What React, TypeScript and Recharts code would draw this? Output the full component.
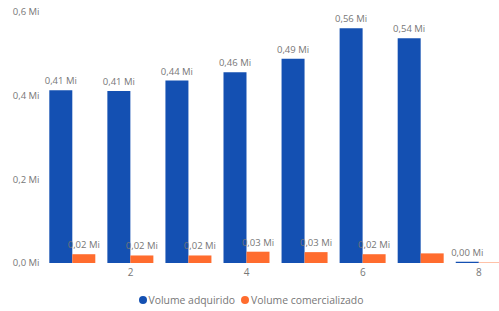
import { Bar, BarChart, LabelList, Legend, XAxis, YAxis } from 'recharts';

const categorias = [1, 2, 3, 4, 5, 6, 7, 8];
const volumeAdquirido = [0.413, 0.411, 0.436, 0.456, 0.488, 0.561, 0.537, 0.003];
const volumeComercializado = [0.021, 0.018, 0.018, 0.027, 0.026, 0.021, 0.023, 0.001];
// Power BI hides labels that collide; these are the ones left visible
const comercializadoLabelVisivel = [true, true, true, true, true, true, false, false];
const xTicks = [2, 4, 6, 8];
const yTicks = [0, 0.2, 0.4, 0.6];

const series = [
    { key: 'adquirido', name: 'Volume adquirido', fill: '#1450B2' },
    { key: 'comercializado', name: 'Volume comercializado', fill: '#FF6C2E' },
];

const data = categorias.map((c, i) => ({
    mes: c,
    adquirido: volumeAdquirido[i],
    comercializado: volumeComercializado[i],
}));

const FONT = '"Open Sans", "Noto Sans", sans-serif';
const TEXT = '#777777';

const fmtMi = (v: number, digits: number) => `${v.toFixed(digits).replace('.', ',')} Mi`;

const LegendContent = () => (
    <div
        style={{
            height: 28,
            display: 'flex',
            justifyContent: 'center',
            alignItems: 'center',
            fontFamily: FONT,
            fontSize: 10.4,
            color: TEXT,
            paddingTop: 6,
            boxSizing: 'border-box',
        }}
    >
        {series.map((s) => (
            <span key={s.key} style={{ display: 'flex', alignItems: 'center', marginRight: 6 }}>
                <span
                    style={{
                        width: 8,
                        height: 8,
                        borderRadius: '50%',
                        background: s.fill,
                        marginRight: 2,
                        display: 'inline-block',
                    }}
                />
                {s.name}
            </span>
        ))}
    </div>
);

const makeLabel = (visible?: boolean[]) => (props: any) => {
    const { x, y, width, value, index } = props;
    if (visible && !visible[index]) return null;
    return (
        <text
            x={Number(x) + Number(width) / 2}
            y={Number(y) - 6}
            textAnchor="middle"
            fill={TEXT}
            fontSize={9.5}
            fontFamily={FONT}
        >
            {fmtMi(Number(value), 2)}
        </text>
    );
};

const AdquiridoLabel = makeLabel();
const ComercializadoLabel = makeLabel(comercializadoLabelVisivel);

const App = () => {
    return (
        <div style={{ position: 'absolute', top: 0, left: 0, width: 499, height: 311, overflow: 'hidden', background: '#fff' }}>
            <BarChart
                width={508}
                height={311}
                data={data}
                margin={{ top: 12, right: 0, bottom: 0, left: 0 }}
                barCategoryGap="10%"
                barGap={0}
            >
                <XAxis
                    dataKey="mes"
                    ticks={xTicks}
                    height={20}
                    axisLine={false}
                    tickLine={false}
                    tickSize={0}
                    tickMargin={6}
                    tick={{ fill: TEXT, fontSize: 10, fontFamily: FONT }}
                />
                <YAxis
                    width={43.5}
                    domain={[0, 0.6]}
                    ticks={yTicks}
                    axisLine={false}
                    tickLine={false}
                    tickSize={0}
                    tickMargin={4}
                    tickFormatter={(v: number) => fmtMi(v, 1)}
                    tick={{ fill: TEXT, fontSize: 9.5, fontFamily: FONT }}
                />
                <Legend verticalAlign="bottom" height={28} wrapperStyle={{ left: 0, width: 508 }} content={LegendContent} />
                <Bar dataKey="adquirido" name={series[0].name} fill={series[0].fill} isAnimationActive={false}>
                    <LabelList dataKey="adquirido" content={AdquiridoLabel} />
                </Bar>
                <Bar dataKey="comercializado" name={series[1].name} fill={series[1].fill} isAnimationActive={false}>
                    <LabelList dataKey="comercializado" content={ComercializadoLabel} />
                </Bar>
            </BarChart>
        </div>
    );
};

export default App;
